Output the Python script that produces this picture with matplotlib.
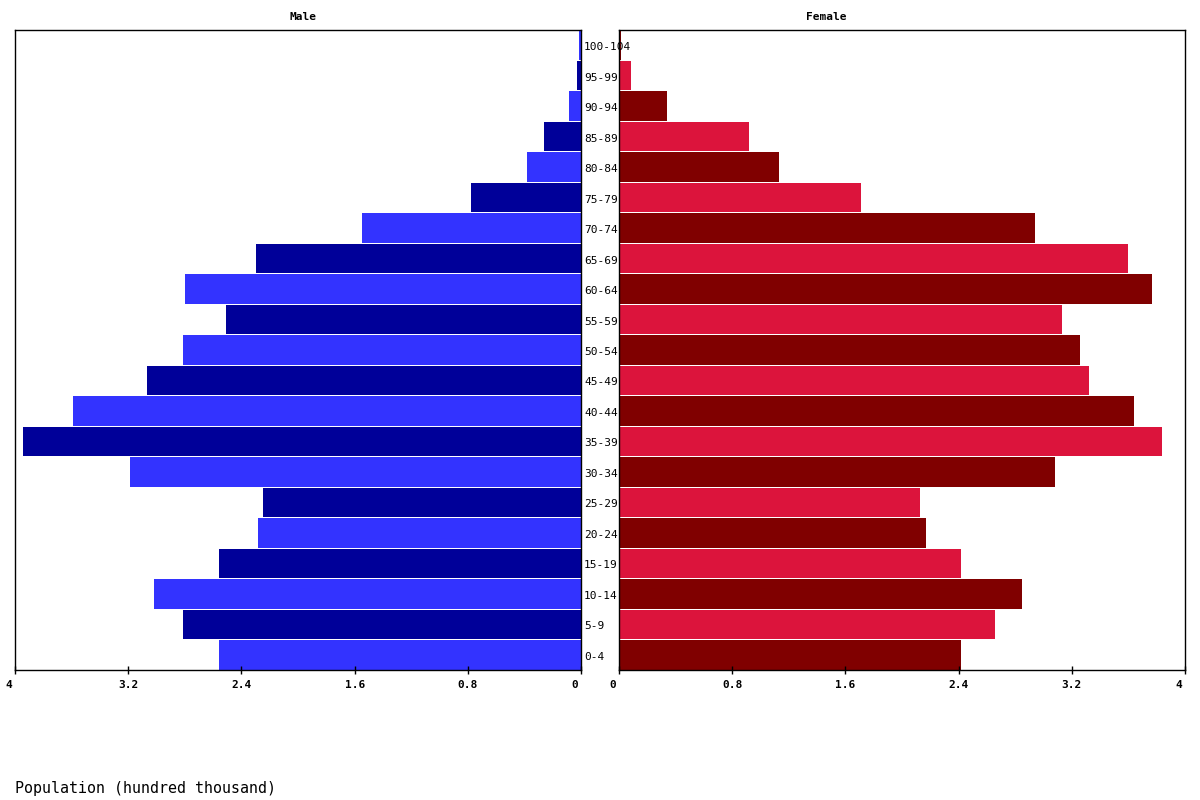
import matplotlib
matplotlib.use("Agg")
import matplotlib.pyplot as plt
import matplotlib.transforms as mtransforms
import numpy as np

# Age groups, bottom to top
age_groups = ["0-4", "5-9", "10-14", "15-19", "20-24", "25-29", "30-34",
              "35-39", "40-44", "45-49", "50-54", "55-59", "60-64", "65-69",
              "70-74", "75-79", "80-84", "85-89", "90-94", "95-99", "100-104"]

# Population in hundred thousand
male = [2.56, 2.81, 3.02, 2.56, 2.28, 2.25, 3.19, 3.94, 3.59, 3.07, 2.81,
        2.51, 2.80, 2.30, 1.55, 0.78, 0.38, 0.26, 0.085, 0.028, 0.014]
female = [2.42, 2.66, 2.85, 2.42, 2.17, 2.13, 3.08, 3.84, 3.64, 3.32, 3.26,
          3.13, 3.77, 3.60, 2.94, 1.71, 1.13, 0.92, 0.34, 0.085, 0.014]

ticks = [0, 0.8, 1.6, 2.4, 3.2, 4]
tick_labels = ["0", "0.8", "1.6", "2.4", "3.2", "4"]

FONT = "DejaVu Sans Mono"
W, H = 1200, 800

fig = plt.figure(figsize=(12, 8), dpi=100)
ax_m = fig.add_axes([15 / W, 130 / H, 566 / W, 640 / H])
ax_f = fig.add_axes([619 / W, 130 / H, 566 / W, 640 / H])

y = np.arange(len(age_groups))
male_colors = ["#3333ff" if i % 2 == 0 else "#000099" for i in y]
female_colors = ["#800000" if i % 2 == 0 else "#dc143c" for i in y]

ax_m.barh(y, male, height=0.97, color=male_colors)
ax_f.barh(y, female, height=0.97, color=female_colors)

ax_m.set_xlim(4, 0)
ax_f.set_xlim(0, 4)
# tick labels start a little left of their tick
shift = mtransforms.ScaledTranslation(-10 / 100, 0, fig.dpi_scale_trans)
for ax in (ax_m, ax_f):
    ax.set_ylim(-0.5, len(age_groups) - 0.5)
    ax.set_yticks([])
    ax.set_xticks(ticks)
    ax.set_xticklabels(tick_labels, fontfamily=FONT, fontweight="bold",
                       fontsize=8, ha="left")
    ax.tick_params(axis="x", direction="inout", length=6, width=1, pad=4)
    for lbl in ax.get_xticklabels():
        lbl.set_transform(lbl.get_transform() + shift)
    for s in ax.spines.values():
        s.set_linewidth(1)

fig.text(303 / W, 1 - 17 / H, "Male", fontfamily=FONT, fontweight="bold",
         fontsize=8, ha="center", va="center")
fig.text(826 / W, 1 - 17 / H, "Female", fontfamily=FONT, fontweight="bold",
         fontsize=8, ha="center", va="center")

# age labels between the panels
for i, label in enumerate(age_groups):
    yp = 128 + (i + 0.5) * 640 / len(age_groups)
    fig.text(584 / W, yp / H, label, fontfamily=FONT, fontsize=8,
             ha="left", va="center")

fig.text(15 / W, 12 / H, "Population (hundred thousand)",
         fontfamily=FONT, fontsize=10.8, ha="left", va="center")

fig.savefig("out.png", dpi=100)
